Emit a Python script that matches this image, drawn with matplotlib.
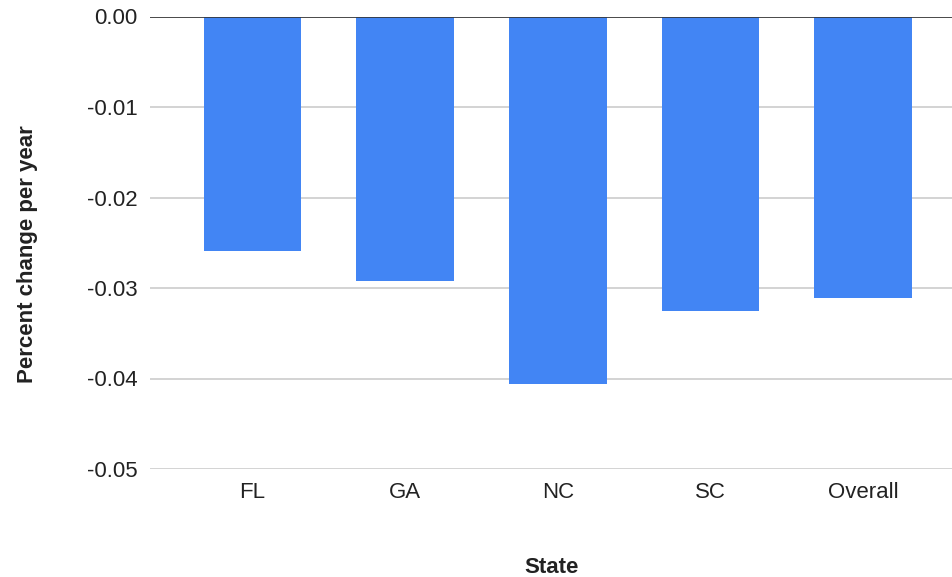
import numpy as np
import matplotlib.pyplot as plt

# values
states = ['FL', 'GA', 'NC', 'SC', 'Overall']
pct_change = [-0.0259, -0.0292, -0.0406, -0.0325, -0.0311]
y_ticks = [0.00, -0.01, -0.02, -0.03, -0.04, -0.05]

plt.rcParams['font.family'] = ['Liberation Sans', 'DejaVu Sans']

fig = plt.figure(figsize=(9.53, 5.77), dpi=100)
ax = fig.add_axes([150 / 953, 1 - 469 / 577, 803 / 953, (469 - 16.5) / 577])

x = np.arange(len(states))
ax.bar(x, pct_change, width=0.64, color='#4285f4', zorder=3)

ax.set_ylim(-0.05, 0)
ax.set_xlim(-0.672, 4.59)
ax.set_yticks(y_ticks)
ax.set_yticklabels(['%.2f' % v for v in y_ticks])
ax.set_xticks(x)
ax.set_xticklabels(states)

ax.grid(axis='y', color='#cccccc', linewidth=1.2, zorder=0)
ax.axhline(0, color='#333333', linewidth=1.2, zorder=4)
for s in ax.spines.values():
    s.set_visible(False)
ax.tick_params(length=0, labelsize=16, colors='#222222')
ax.tick_params(axis='y', pad=9)
ax.tick_params(axis='x', pad=9)

ax.set_xlabel('State', fontsize=16, fontweight='bold', labelpad=39, color='#222222')
ax.set_ylabel('Percent change per year', fontsize=16, fontweight='bold', color='#222222')
ax.yaxis.set_label_coords(-0.14, 0.475)

fig.savefig('out.png', dpi=100)
